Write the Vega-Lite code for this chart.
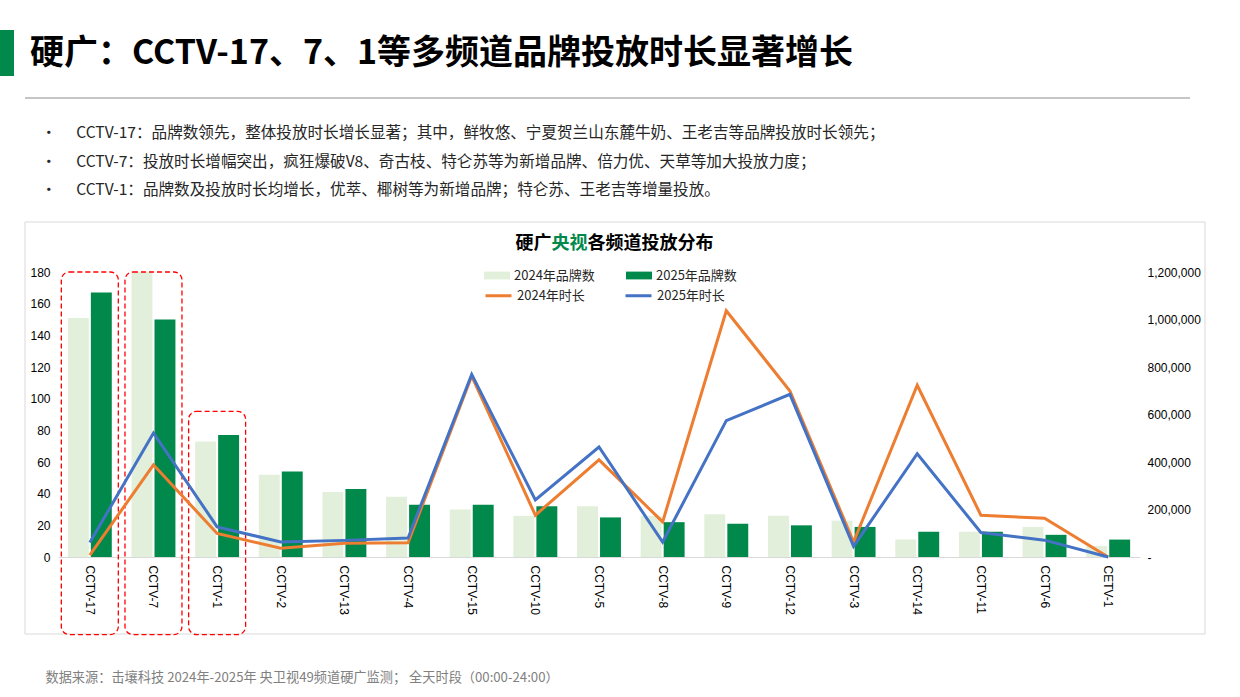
{
  "$schema": "https://vega.github.io/schema/vega-lite/v6.json",
  "width": 1082,
  "height": 285,
  "autosize": {"type": "none"},
  "padding": {"left": 58, "top": 272, "right": 100, "bottom": 140},
  "background": "white",
  "config": {
    "view": {"stroke": null},
    "font": "Noto Sans CJK SC",
    "axis": {"labelFont": "Liberation Sans", "labelFontSize": 12, "labelColor": "#000", "ticks": false, "grid": false}
  },
  "title": {
    "text": "硬广：CCTV-17、7、1等多频道品牌投放时长显著增长",
    "subtitle": [
      "\u200B\u2002\u2009•\u2003\u2009\u200ACCTV-17：品牌数领先，整体投放时长增长显著；其中，鲜牧悠、宁夏贺兰山东麓牛奶、王老吉等品牌投放时长领先；",
      "\u200B\u2002\u2009•\u2003\u2009\u200ACCTV-7：投放时长增幅突出，疯狂爆破V8、奇古枝、特仑苏等为新增品牌、倍力优、天草等加大投放力度；",
      "\u200B\u2002\u2009•\u2003\u2009\u200ACCTV-1：品牌数及投放时长均增长，优萃、椰树等为新增品牌；特仑苏、王老吉等增量投放。"
    ],
    "anchor": "start",
    "frame": "bounds",
    "dx": 30,
    "offset": -169,
    "font": "Noto Sans CJK SC",
    "fontSize": 34,
    "fontWeight": "bold",
    "color": "#000",
    "subtitleFont": "Noto Sans CJK SC",
    "subtitleFontSize": 15.6,
    "subtitleColor": "#262626",
    "subtitleLineHeight": 28.5,
    "subtitlePadding": 55
  },
  "data": {
    "values": [
      {"ch": "CCTV-17", "2024年品牌数": 151, "2025年品牌数": 167, "2024年时长": 8000, "2025年时长": 61000},
      {"ch": "CCTV-7", "2024年品牌数": 180, "2025年品牌数": 150, "2024年时长": 388000, "2025年时长": 522000},
      {"ch": "CCTV-1", "2024年品牌数": 73, "2025年品牌数": 77, "2024年时长": 99000, "2025年时长": 127000},
      {"ch": "CCTV-2", "2024年品牌数": 52, "2025年品牌数": 54, "2024年时长": 37000, "2025年时长": 63000},
      {"ch": "CCTV-13", "2024年品牌数": 41, "2025年品牌数": 43, "2024年时长": 58000, "2025年时长": 70000},
      {"ch": "CCTV-4", "2024年品牌数": 38, "2025年品牌数": 33, "2024年时长": 60000, "2025年时长": 80000},
      {"ch": "CCTV-15", "2024年品牌数": 30, "2025年品牌数": 33, "2024年时长": 762000, "2025年时长": 769000},
      {"ch": "CCTV-10", "2024年品牌数": 26, "2025年品牌数": 32, "2024年时长": 176000, "2025年时长": 240000},
      {"ch": "CCTV-5", "2024年品牌数": 32, "2025年品牌数": 25, "2024年时长": 409000, "2025年时长": 463000},
      {"ch": "CCTV-8", "2024年品牌数": 26, "2025年品牌数": 22, "2024年时长": 148000, "2025年时长": 63000},
      {"ch": "CCTV-9", "2024年品牌数": 27, "2025年品牌数": 21, "2024年时长": 1037000, "2025年时长": 574000},
      {"ch": "CCTV-12", "2024年品牌数": 26, "2025年品牌数": 20, "2024年时长": 699000, "2025年时长": 685000},
      {"ch": "CCTV-3", "2024年品牌数": 23, "2025年品牌数": 19, "2024年时长": 63000, "2025年时长": 45000},
      {"ch": "CCTV-14", "2024年品牌数": 11, "2025年品牌数": 16, "2024年时长": 723000, "2025年时长": 435000},
      {"ch": "CCTV-11", "2024年品牌数": 16, "2025年品牌数": 16, "2024年时长": 176000, "2025年时长": 103000},
      {"ch": "CCTV-6", "2024年品牌数": 19, "2025年品牌数": 14, "2024年时长": 163000, "2025年时长": 71000},
      {"ch": "CETV-1", "2024年品牌数": 7, "2025年品牌数": 11, "2024年时长": 0, "2025年时长": 0}
    ]
  },
  "layer": [
    {
      "data": {"values": [{}]},
      "mark": {"type": "rect", "fillOpacity": 0, "stroke": "#d9d9d9", "strokeWidth": 1},
      "encoding": {"x": {"value": -33}, "x2": {"value": 1147}, "y": {"value": -50}, "y2": {"value": 362}}
    },
    {
      "data": {"values": [{}]},
      "mark": {"type": "rect", "fill": "#00894A"},
      "encoding": {"x": {"value": -58}, "x2": {"value": -44}, "y": {"value": -242}, "y2": {"value": -196}}
    },
    {
      "data": {"values": [{}]},
      "mark": {"type": "rule", "stroke": "#8c8c8c", "strokeWidth": 1},
      "encoding": {"x": {"value": -33}, "x2": {"value": 1132}, "y": {"value": -174}}
    },
    {
      "transform": [{"fold": ["2024年品牌数", "2025年品牌数"], "as": ["series", "value"]}],
      "mark": {"type": "bar"},
      "encoding": {
        "x": {
          "field": "ch", "type": "nominal", "sort": null,
          "scale": {"domain": ["CCTV-17","CCTV-7","CCTV-1","CCTV-2","CCTV-13","CCTV-4","CCTV-15","CCTV-10","CCTV-5","CCTV-8","CCTV-9","CCTV-12","CCTV-3","CCTV-14","CCTV-11","CCTV-6","CETV-1"], "paddingInner": 0.31, "paddingOuter": 0.155},
          "axis": {
            "orient": "bottom", "labelAngle": 90, "labelPadding": 8, "domainColor": "#d9d9d9", "domainWidth": 1,
            "title": "数据来源：击壤科技  2024年-2025年 央卫视49频道硬广监测； 全天时段（00:00-24:00）",
            "titleX": -13, "titleY": 120, "titleAlign": "left", "titleAnchor": "start", "titleBaseline": "middle",
            "titleFont": "Noto Sans CJK SC", "titleFontSize": 13.2, "titleFontWeight": "normal", "titleColor": "#808080"
          }
        },
        "xOffset": {"field": "series", "type": "nominal", "scale": {"paddingInner": 0.09}},
        "y": {
          "field": "value", "type": "quantitative",
          "scale": {"domain": [0, 180], "nice": false},
          "axis": {
            "values": [0, 20, 40, 60, 80, 100, 120, 140, 160, 180], "domain": false, "labelPadding": 8,
            "title": "硬广",
            "titleAngle": 0, "titleX": 493, "titleY": -29, "titleAlign": "right", "titleBaseline": "middle",
            "titleFont": "Noto Sans CJK SC", "titleFontSize": 18, "titleFontWeight": "bold", "titleColor": "#000"
          }
        },
        "fill": {
          "field": "series", "type": "nominal",
          "scale": {"domain": ["2024年品牌数", "2025年品牌数"], "range": ["#E2EFDA", "#00894A"]},
          "legend": {
            "title": null, "orient": "none", "direction": "horizontal", "legendX": 426, "legendY": -9.5,
            "symbolType": "M-1,-0.3H1V0.3H-1Z", "symbolSize": 676, "symbolStrokeWidth": 0,
            "labelFont": "Noto Sans CJK SC", "labelFontSize": 13, "labelColor": "#262626", "labelOffset": 4, "columnPadding": 31
          }
        }
      }
    },
    {
      "transform": [{"filter": "datum.ch == 'CCTV-17' || datum.ch == 'CCTV-7'"}],
      "mark": {"type": "bar", "width": 57, "cornerRadius": 8, "fillOpacity": 0, "stroke": "#FF0000", "strokeWidth": 1.3, "strokeDash": [5, 3]},
      "encoding": {
        "x": {
          "field": "ch", "type": "nominal", "sort": null,
          "axis": {
            "orient": "top", "labels": false, "domain": false, "ticks": false,
            "title": "各频道投放分布", "titleX": 529, "titleY": -29, "titleAlign": "left", "titleAnchor": "start", "titleBaseline": "middle",
            "titleFont": "Noto Sans CJK SC", "titleFontSize": 18, "titleFontWeight": "bold", "titleColor": "#000"
          }
        },
        "y": {"datum": 180, "type": "quantitative", "scale": {"domain": [0, 180], "nice": false}, "axis": null},
        "y2": {"datum": -49}
      }
    },
    {
      "transform": [{"filter": "datum.ch == 'CCTV-1'"}],
      "mark": {"type": "bar", "width": 57, "cornerRadius": 8, "fillOpacity": 0, "stroke": "#FF0000", "strokeWidth": 1.3, "strokeDash": [5, 3]},
      "encoding": {
        "x": {"field": "ch", "type": "nominal", "sort": null, "axis": null},
        "y": {"datum": 92, "type": "quantitative", "scale": {"domain": [0, 180], "nice": false}, "axis": null},
        "y2": {"datum": -49}
      }
    },
    {
      "transform": [{"fold": ["2024年时长", "2025年时长"], "as": ["series", "value"]}],
      "mark": {"type": "line", "strokeWidth": 3},
      "encoding": {
        "x": {"field": "ch", "type": "nominal", "sort": null, "axis": null},
        "y": {
          "field": "value", "type": "quantitative",
          "scale": {"domain": [0, 1200000], "nice": false},
          "axis": {
            "orient": "right", "values": [0, 200000, 400000, 600000, 800000, 1000000, 1200000], "domain": false, "labelPadding": 7,
            "labelExpr": "datum.value == 0 ? '-' : format(datum.value, ',')",
            "title": "央视", "titleAngle": 0, "titleX": -589, "titleY": -29, "titleAlign": "left", "titleBaseline": "middle",
            "titleFont": "Noto Sans CJK SC", "titleFontSize": 18, "titleFontWeight": "bold", "titleColor": "#00894A"
          }
        },
        "stroke": {
          "field": "series", "type": "nominal",
          "scale": {"domain": ["2024年时长", "2025年时长"], "range": ["#ED7D31", "#4472C4"]},
          "legend": {
            "title": null, "orient": "none", "direction": "horizontal", "legendX": 426, "legendY": 9,
            "symbolType": "stroke", "symbolSize": 676, "symbolStrokeWidth": 3,
            "labelFont": "Noto Sans CJK SC", "labelFontSize": 13, "labelColor": "#262626", "labelOffset": 4, "columnPadding": 34
          }
        }
      }
    }
  ],
  "resolve": {"scale": {"y": "independent", "fill": "independent", "stroke": "independent"}, "axis": {"x": "independent"}}
}
